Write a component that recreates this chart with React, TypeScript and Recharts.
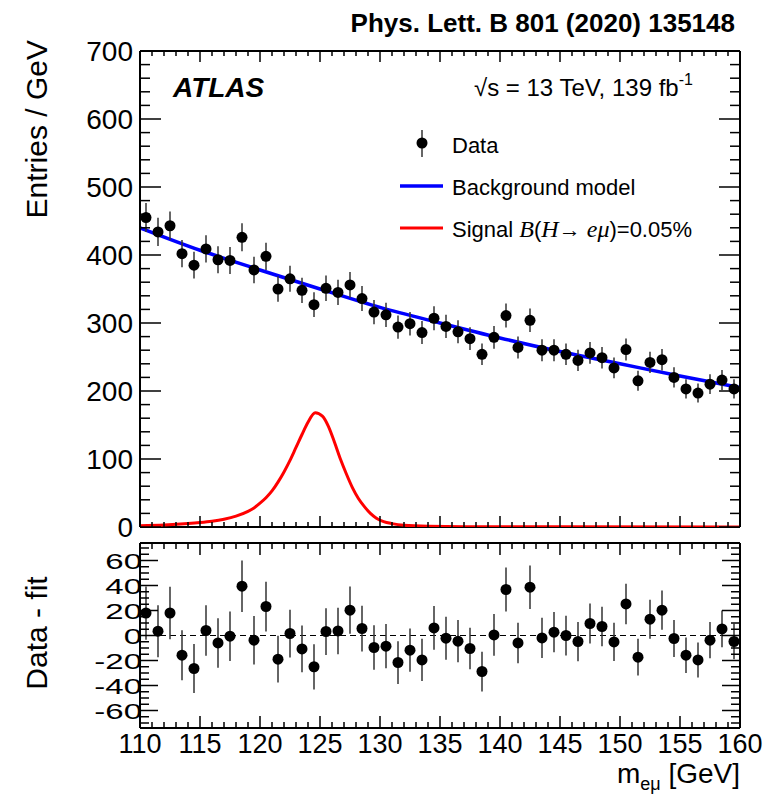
import { ComposedChart, Scatter, Line, XAxis, YAxis, ErrorBar, ReferenceLine } from 'recharts';

// 1 GeV bins from 110 to 160 GeV
const massBins = [
  110.5, 111.5, 112.5, 113.5, 114.5, 115.5, 116.5, 117.5, 118.5, 119.5,
  120.5, 121.5, 122.5, 123.5, 124.5, 125.5, 126.5, 127.5, 128.5, 129.5,
  130.5, 131.5, 132.5, 133.5, 134.5, 135.5, 136.5, 137.5, 138.5, 139.5,
  140.5, 141.5, 142.5, 143.5, 144.5, 145.5, 146.5, 147.5, 148.5, 149.5,
  150.5, 151.5, 152.5, 153.5, 154.5, 155.5, 156.5, 157.5, 158.5, 159.5,
];

const entries = [
  455, 434, 443, 402, 385, 409, 393, 392, 426, 378,
  398, 350, 365, 348, 327, 351, 345, 356, 336, 316,
  312, 294, 299, 286, 307, 295, 287, 277, 254, 279,
  311, 264, 304, 260, 260, 254, 245, 256, 249, 234,
  261, 215, 242, 246, 220, 203, 197, 210, 216, 203,
];

const entryErrors = [
  21.3, 20.8, 21.0, 20.0, 19.6, 20.2, 19.8, 19.8, 20.6, 19.4,
  19.9, 18.7, 19.1, 18.7, 18.1, 18.7, 18.6, 18.9, 18.3, 17.8,
  17.7, 17.1, 17.3, 16.9, 17.5, 17.2, 16.9, 16.6, 15.9, 16.7,
  17.6, 16.2, 17.4, 16.1, 16.1, 15.9, 15.7, 16.0, 15.8, 15.3,
  16.2, 14.7, 15.6, 15.7, 14.8, 14.2, 14.0, 14.5, 14.7, 14.2,
];

const residuals = [
  18, 3.5, 18, -15.7, -26.4, 4, -5.9, -0.5, 39.5, -3.7,
  23.2, -18.9, 1.6, -10.7, -25, 3.2, 3.7, 20.3, 5.6, -9.6,
  -8.5, -21.6, -11.7, -19.5, 6.1, -2.1, -4.5, -10.4, -28.8, 0.5,
  36.8, -5.9, 38.7, -1.9, 2.7, 0, -4.8, 9.6, 7.2, -5.1,
  25.3, -17.3, 13.1, 20.3, -2.4, -15.7, -19.5, -3.7, 5.3, -4.8,
];

// background fit, sampled every 5 GeV
const bgMass = [110, 115, 120, 125, 130, 135, 140, 145, 150, 155, 160];
const bgValues = [440, 407, 378, 350, 323, 300, 278, 258, 240, 222, 205];

// signal shape for B(H->e mu) = 0.05%
const sigMass = [
  110, 112, 114, 115, 116, 117, 118, 119, 119.5, 120, 120.5, 121, 121.5, 122, 122.5,
  123, 123.5, 124, 124.6, 125.2, 125.7, 126.2, 126.7, 127.2, 127.7, 128.2, 128.7,
  129.2, 129.7, 130.3, 131, 132, 134, 137, 145, 160,
];
const sigValues = [
  2, 3, 5, 6.5, 8.5, 11.5, 16, 23, 28, 35, 43, 53, 66, 81, 98,
  117, 136, 154, 168, 163, 148, 125, 100, 78, 58, 42, 30,
  20, 13, 8, 5, 2.5, 1, 0.5, 0.2, 0,
];

const massTicks = [
  110, 111, 112, 113, 114, 115, 116, 117, 118, 119, 120, 121, 122, 123, 124, 125, 126,
  127, 128, 129, 130, 131, 132, 133, 134, 135, 136, 137, 138, 139, 140, 141, 142, 143,
  144, 145, 146, 147, 148, 149, 150, 151, 152, 153, 154, 155, 156, 157, 158, 159, 160,
];
const entryTicks = [
  0, 20, 40, 60, 80, 100, 120, 140, 160, 180, 200, 220, 240, 260, 280, 300, 320, 340,
  360, 380, 400, 420, 440, 460, 480, 500, 520, 540, 560, 580, 600, 620, 640, 660, 680, 700,
];
const residualTicks = [-70, -65, -60, -55, -50, -45, -40, -35, -30, -25, -20, -15, -10, -5, 0, 5, 10, 15, 20, 25, 30, 35, 40, 45, 50, 55, 60, 65, 70];

const dataPoints = massBins.map((m, i) => ({ m, v: entries[i], err: entryErrors[i] }));
const residualPoints = massBins.map((m, i) => ({ m, v: residuals[i], err: entryErrors[i] }));
const bgCurve = bgMass.map((m, i) => ({ m, v: bgValues[i] }));
const sigCurve = sigMass.map((m, i) => ({ m, v: sigValues[i] }));

const FONT = '"Liberation Sans", Arial, Helvetica, sans-serif';
const SERIF = '"Liberation Serif", "Times New Roman", serif';
const W = 769;
const H = 795;

type Side = 'left' | 'right' | 'top' | 'bottom';

// ticks are drawn inward from the frame; labels only on majors
const makeTick =
  (side: Side, isMajor: (v: number) => boolean, majorLen: number, minorLen: number, label?: (x: number, y: number, v: number) => any) =>
  (props: any) => {
    const { x, y, payload } = props;
    const v = payload.value;
    const major = isMajor(v);
    const len = major ? majorLen : minorLen;
    let x2 = x;
    let y2 = y;
    if (side === 'left') x2 = x + len;
    if (side === 'right') x2 = x - len;
    if (side === 'top') y2 = y + len;
    if (side === 'bottom') y2 = y - len;
    return (
      <g>
        <line x1={x} y1={y} x2={x2} y2={y2} stroke="#000" strokeWidth={1.5} />
        {label && major ? label(x, y, v) : null}
      </g>
    );
  };

const every = (n: number) => (v: number) => Math.abs(v % n) < 1e-6;

const frame = { stroke: '#000', strokeWidth: 2 };

const dot = (props: any) => <circle cx={props.cx} cy={props.cy} r={5.5} fill="#000" />;

function MainPanel() {
  return (
    <ComposedChart width={W} height={H} margin={{ top: 50, right: 28, bottom: 0, left: 0 }}>
      {/* bottom edge is covered by the signal curve sitting at zero */}
      <XAxis
        xAxisId="b"
        type="number"
        dataKey="m"
        domain={[110, 160]}
        ticks={massTicks}
        interval={0}
        height={268}
        tickSize={0}
        tickMargin={0}
        tickLine={false}
        axisLine={false}
        tick={makeTick('bottom', every(5), 11, 5)}
        allowDataOverflow
      />
      <XAxis
        xAxisId="t"
        orientation="top"
        type="number"
        dataKey="m"
        domain={[110, 160]}
        ticks={massTicks}
        interval={0}
        height={1}
        tickSize={0}
        tickMargin={0}
        tickLine={false}
        axisLine={frame}
        tick={makeTick('top', every(5), 11, 5)}
        allowDataOverflow
      />
      <YAxis
        yAxisId="l"
        type="number"
        domain={[0, 700]}
        ticks={entryTicks}
        interval={0}
        width={140}
        tickSize={0}
        tickMargin={0}
        tickLine={false}
        axisLine={frame}
        allowDataOverflow
        tick={makeTick('left', every(100), 21, 10, (x, y, v) => (
          <text x={x - 7} y={y + 10} textAnchor="end" fontFamily={FONT} fontSize={28} fill="#000">
            {v}
          </text>
        ))}
      />
      <YAxis
        yAxisId="r"
        orientation="right"
        type="number"
        domain={[0, 700]}
        ticks={entryTicks}
        interval={0}
        width={1}
        tickSize={0}
        tickMargin={0}
        tickLine={false}
        axisLine={frame}
        allowDataOverflow
        tick={makeTick('right', every(100), 21, 10)}
      />
      <ReferenceLine xAxisId="b" yAxisId="l" y={0} stroke="#000" strokeWidth={2} />
      <Line
        xAxisId="b"
        yAxisId="l"
        data={sigCurve}
        dataKey="v"
        type="monotone"
        stroke="#ff0000"
        strokeWidth={3}
        dot={false}
        isAnimationActive={false}
      />
      <Line
        xAxisId="b"
        yAxisId="l"
        data={bgCurve}
        dataKey="v"
        type="monotone"
        stroke="#0000ff"
        strokeWidth={3.5}
        dot={false}
        isAnimationActive={false}
      />
      <Scatter xAxisId="b" yAxisId="l" data={dataPoints} dataKey="v" shape={dot} isAnimationActive={false}>
        <ErrorBar dataKey="err" direction="y" width={0} stroke="#333" strokeWidth={1.5} />
      </Scatter>
    </ComposedChart>
  );
}

function RatioPanel() {
  return (
    <ComposedChart width={W} height={H} margin={{ top: 542, right: 28, bottom: 0, left: 0 }}>
      <XAxis
        xAxisId="b"
        type="number"
        dataKey="m"
        domain={[110, 160]}
        ticks={massTicks}
        interval={0}
        height={67}
        tickSize={0}
        tickMargin={0}
        tickLine={false}
        axisLine={frame}
        allowDataOverflow
        tick={makeTick('bottom', every(5), 12, 6, (x, y, v) => (
          <text x={x} y={y + 25} textAnchor="middle" fontFamily={FONT} fontSize={27} fill="#000">
            {v}
          </text>
        ))}
      />
      <XAxis
        xAxisId="t"
        orientation="top"
        type="number"
        dataKey="m"
        domain={[110, 160]}
        ticks={massTicks}
        interval={0}
        height={1}
        tickSize={0}
        tickMargin={0}
        tickLine={false}
        axisLine={frame}
        allowDataOverflow
        tick={makeTick('top', every(5), 12, 6)}
      />
      <YAxis
        yAxisId="l"
        type="number"
        domain={[-74, 74]}
        ticks={residualTicks}
        interval={0}
        width={140}
        tickSize={0}
        tickMargin={0}
        tickLine={false}
        axisLine={frame}
        allowDataOverflow
        tick={makeTick('left', every(20), 18, 9, (x, y, v) => (
          <text
            transform={`translate(${x + 2}, ${y + 8}) scale(1.5, 1)`}
            textAnchor="end"
            fontFamily={FONT}
            fontSize={22}
            fill="#000"
          >
            {v}
          </text>
        ))}
      />
      <YAxis
        yAxisId="r"
        orientation="right"
        type="number"
        domain={[-74, 74]}
        ticks={residualTicks}
        interval={0}
        width={1}
        tickSize={0}
        tickMargin={0}
        tickLine={false}
        axisLine={frame}
        allowDataOverflow
        tick={makeTick('right', every(20), 18, 9)}
      />
      <ReferenceLine xAxisId="b" yAxisId="l" y={0} stroke="#000" strokeWidth={1.2} strokeDasharray="6 4" />
      <Scatter xAxisId="b" yAxisId="l" data={residualPoints} dataKey="v" shape={dot} isAnimationActive={false}>
        <ErrorBar dataKey="err" direction="y" width={0} stroke="#333" strokeWidth={1.5} />
      </Scatter>
    </ComposedChart>
  );
}

function Labels() {
  return (
    <svg width={W} height={H} style={{ position: 'absolute', left: 0, top: 0 }} fontFamily={FONT} fill="#000">
      <text x={735} y={32} textAnchor="end" fontSize={26} fontWeight="bold">
        Phys. Lett. B 801 (2020) 135148
      </text>
      <text x={173} y={97} fontSize={28} fontWeight="bold" fontStyle="italic">
        ATLAS
      </text>
      <text x={474} y={96} fontSize={24}>
        √s = 13 TeV, 139 fb
        <tspan dy={-11} fontSize={16}>
          -1
        </tspan>
      </text>

      {/* legend */}
      <line x1={422} y1={130} x2={422} y2={157} stroke="#333" strokeWidth={1.5} />
      <circle cx={422} cy={143} r={5.5} fill="#000" />
      <text x={452} y={153} fontSize={22}>
        Data
      </text>
      <line x1={400} y1={186} x2={443} y2={186} stroke="#0000ff" strokeWidth={3.5} />
      <text x={452} y={195} fontSize={22}>
        Background model
      </text>
      <line x1={400} y1={228} x2={443} y2={228} stroke="#ff0000" strokeWidth={3} />
      <text x={452} y={237} fontSize={22}>
        Signal{' '}
        <tspan fontFamily={SERIF} fontStyle="italic" fontSize={24}>
          B
        </tspan>
        (
        <tspan fontFamily={SERIF} fontStyle="italic" fontSize={24}>
          H
        </tspan>
        → <tspan fontFamily={SERIF} fontStyle="italic" fontSize={24}>eμ</tspan>)=0.05%
      </text>

      {/* axis titles */}
      <text transform="translate(47, 40) rotate(-90)" textAnchor="end" fontSize={30}>
        Entries / GeV
      </text>
      <text transform="translate(47, 633) rotate(-90)" textAnchor="middle" fontSize={30}>
        Data - fit
      </text>
      <text x={740} y={783} textAnchor="end" fontSize={28}>
        m
        <tspan dy={7} fontSize={18}>
          eμ
        </tspan>
        <tspan dy={-7}> [GeV]</tspan>
      </text>
    </svg>
  );
}

export default function App() {
  return (
    <div style={{ position: 'absolute', left: 0, top: 0, width: W, height: H, background: '#fff', overflow: 'hidden' }}>
      <div style={{ position: 'absolute', left: 0, top: 0 }}>
        <MainPanel />
      </div>
      <div style={{ position: 'absolute', left: 0, top: 0 }}>
        <RatioPanel />
      </div>
      <Labels />
    </div>
  );
}
